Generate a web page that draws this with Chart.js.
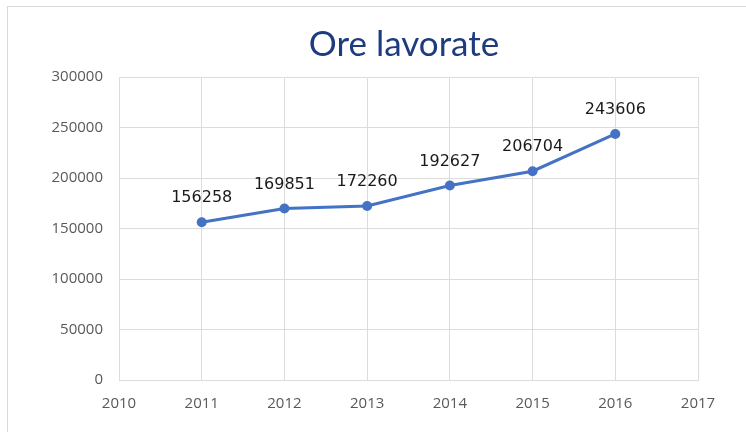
<!DOCTYPE html>
<html>
<head>
<meta charset="utf-8">
<script src="https://cdn.jsdelivr.net/npm/chart.js@4.4.1/dist/chart.umd.min.js"></script>
<style>
  html, body { margin: 0; padding: 0; background: #ffffff; overflow: hidden; }
  #frame { position: absolute; left: 7px; top: 6px; width: 800px; height: 500px;
           border: 1px solid #d9d9d9; box-sizing: border-box; }
  #wrap { position: absolute; left: 0; top: 0; width: 746px; height: 432px; }
</style>
</head>
<body>
<div id="frame"></div>
<div id="wrap"><canvas id="chart" width="746" height="432"></canvas></div>
<script>
// Hours worked per year
const years = [2011, 2012, 2013, 2014, 2015, 2016];
const hours = [156258, 169851, 172260, 192627, 206704, 243606];
const chartTitle = 'Ore lavorate';
const xRange = [2010, 2017];
const yRange = [0, 300000];
const yStep = 50000;

const points = years.map((y, i) => ({ x: y, y: hours[i] }));

// Title drawn centred over the plot area
const titlePlugin = {
  id: 'plotTitle',
  afterDraw(chart) {
    const ctx = chart.ctx;
    ctx.save();
    ctx.font = '35px Lato';
    ctx.fillStyle = '#1f3b80';
    ctx.textAlign = 'center';
    ctx.textBaseline = 'middle';
    ctx.fillText(chartTitle, 404, 45);
    ctx.restore();
  }
};

// Value labels above each point
const valueLabels = {
  id: 'valueLabels',
  afterDatasetsDraw(chart) {
    const ctx = chart.ctx;
    const meta = chart.getDatasetMeta(0);
    ctx.save();
    ctx.font = '16px "DejaVu Sans"';
    ctx.fillStyle = '#1a1a1a';
    ctx.textAlign = 'center';
    ctx.textBaseline = 'middle';
    meta.data.forEach((pt, i) => {
      ctx.fillText(String(hours[i]), pt.x, pt.y - 24);
    });
    ctx.restore();
  }
};

const gridColor = '#dcdcdc';
const tickFont = { family: '"Open Sans"', size: 15 };

new Chart(document.getElementById('chart'), {
  type: 'line',
  data: {
    datasets: [{
      data: points,
      borderColor: '#4472c4',
      backgroundColor: '#4472c4',
      borderWidth: 3,
      pointRadius: 5,
      pointBorderWidth: 0,
      pointBackgroundColor: '#4472c4',
      tension: 0,
      fill: false
    }]
  },
  options: {
    responsive: false,
    animation: false,
    layout: { padding: { left: 0, right: 48, top: 77, bottom: 0 } },
    plugins: {
      legend: { display: false },
      title: { display: false },
      tooltip: { enabled: false }
    },
    scales: {
      x: {
        type: 'linear',
        min: xRange[0],
        max: xRange[1],
        ticks: { stepSize: 1, color: '#595959', font: tickFont, padding: 15,
                 callback: v => String(v) },
        grid: { color: gridColor, drawTicks: false },
        border: { color: gridColor },
        afterFit(scale) { scale.height = 52; }
      },
      y: {
        min: yRange[0],
        max: yRange[1],
        ticks: { stepSize: yStep, color: '#595959', font: tickFont, padding: 16,
                 callback: v => String(v) },
        grid: { color: gridColor, drawTicks: false },
        border: { color: gridColor },
        afterFit(scale) { scale.width = 119; }
      }
    }
  },
  plugins: [titlePlugin, valueLabels]
});
</script>
</body>
</html>
